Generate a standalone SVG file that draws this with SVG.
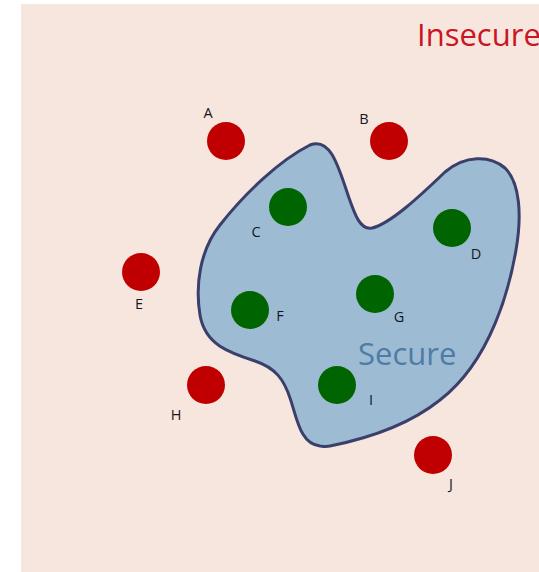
<svg xmlns="http://www.w3.org/2000/svg" width="539" height="572" viewBox="0 0 539 572">
<style>
.bad{fill:#c00000}
.good{fill:#006400}
.lbl{font-family:"Open Sans","Liberation Sans",sans-serif;font-size:14.5px;fill:#16161f;text-anchor:middle}
.big{font-family:"Open Sans","Liberation Sans",sans-serif;font-size:31px}
</style>
<rect x="0" y="0" width="539" height="572" fill="#ffffff"/>
<rect id="insecure-zone" x="21" y="4" width="518" height="568" fill="#f6e6dd"/>
<text x="417" y="46" class="big" fill="#cc1424">Insecure</text>
<g id="secure-zone">
<path d="M 310,145 C 330,137 338,165 348,195 C 355,215 360,230 372,228 C 390,224 420,196 445,172 C 465,155 490,155 505,168 C 520,183 522,215 516,250 C 510,285 492,360 440,400 C 405,428 360,440 330,446 C 325,447 322,446 320,446 C 300,444 297,418 290,398 C 284,380 276,368 255,361 C 230,353 205,345 200,315 C 195,285 200,250 220,225 C 245,193 280,160 310,145 Z" fill="#9dbcd4" stroke="#3b3f6b" stroke-width="3"/>
<text x="358" y="365" class="big" fill="#4f7ba6">Secure</text>
</g>
<g id="connectors"></g>
<g id="A"><circle class="bad" cx="226" cy="141" r="19"/><text class="lbl" x="208" y="118">A</text></g>
<g id="B"><circle class="bad" cx="389" cy="141" r="19"/><text class="lbl" x="364" y="124">B</text></g>
<g id="C"><circle class="good" cx="288" cy="207" r="19"/><text class="lbl" x="256" y="237">C</text></g>
<g id="D"><circle class="good" cx="452" cy="228" r="19"/><text class="lbl" x="476" y="259">D</text></g>
<g id="E"><circle class="bad" cx="141" cy="272" r="19"/><text class="lbl" x="139" y="309">E</text></g>
<g id="F"><circle class="good" cx="250" cy="310" r="19"/><text class="lbl" x="280" y="321">F</text></g>
<g id="G"><circle class="good" cx="375" cy="294" r="19"/><text class="lbl" x="399" y="322">G</text></g>
<g id="H"><circle class="bad" cx="206" cy="385" r="19"/><text class="lbl" x="176" y="420">H</text></g>
<g id="I"><circle class="good" cx="337" cy="385" r="19"/><text class="lbl" x="371" y="405">I</text></g>
<g id="J"><circle class="bad" cx="433" cy="455" r="19"/><text class="lbl" x="451" y="489">J</text></g>
</svg>
